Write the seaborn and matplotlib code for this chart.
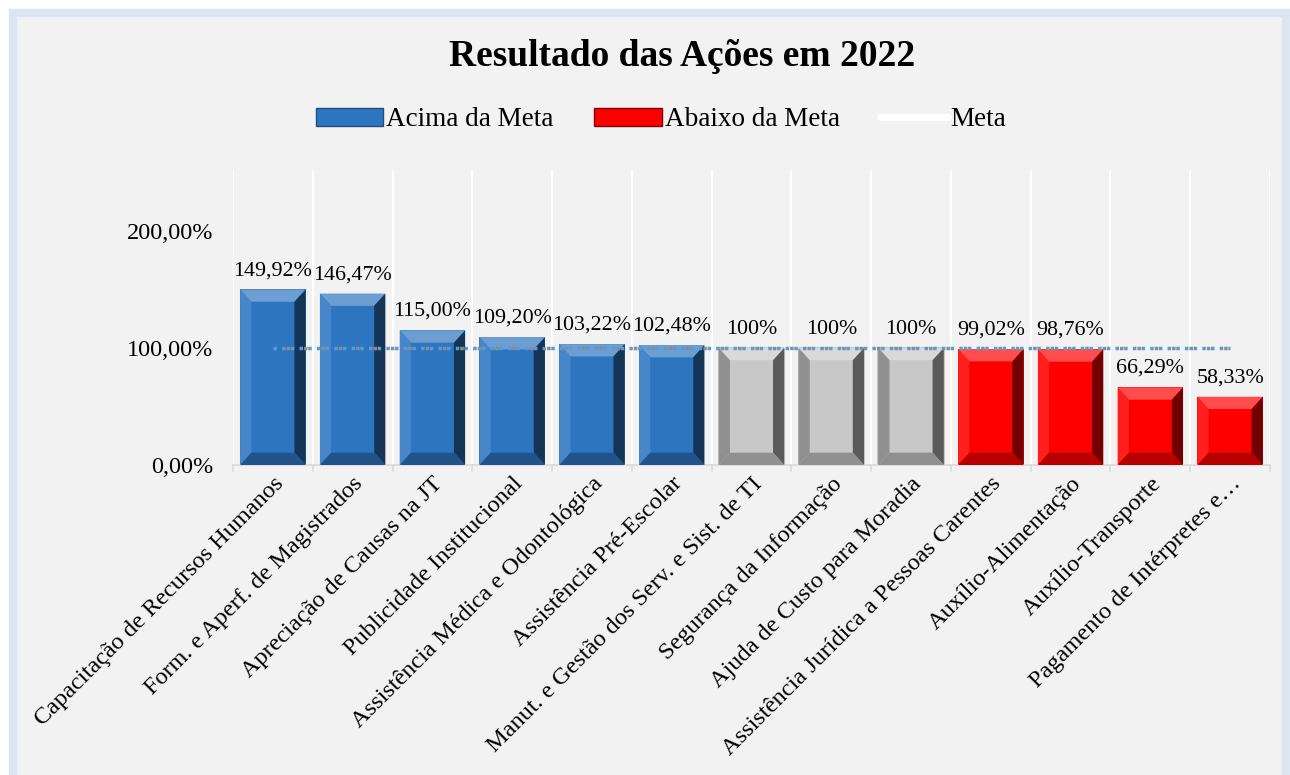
import matplotlib
matplotlib.use("Agg")
import matplotlib.pyplot as plt
from matplotlib.patches import Polygon, Rectangle, Patch
from matplotlib.lines import Line2D
import seaborn as sns
import pandas as pd

acoes = [
    "Capacitação de Recursos Humanos",
    "Form. e Aperf. de Magistrados",
    "Apreciação de Causas na JT",
    "Publicidade Institucional",
    "Assistência Médica e Odontológica",
    "Assistência Pré-Escolar",
    "Manut. e Gestão dos Serv. e Sist. de TI",
    "Segurança da Informação",
    "Ajuda de Custo para Moradia",
    "Assistência Jurídica a Pessoas Carentes",
    "Auxílio-Alimentação",
    "Auxílio-Transporte",
    "Pagamento de Intérpretes e…",
]
resultado = [149.92, 146.47, 115.00, 109.20, 103.22, 102.48, 100, 100, 100,
             99.02, 98.76, 66.29, 58.33]
meta = [100] * len(acoes)

AZUL, CINZA, VERMELHO = "#2e75c0", "#c8c8c8", "#ff0000"


def cor(v):
    if v > 100:
        return AZUL
    if v < 100:
        return VERMELHO
    return CINZA


def rotulo(v):
    if v == 100:
        return "100%"
    return f"{v:.2f}%".replace(".", ",")


df = pd.DataFrame({"acao": acoes, "resultado": resultado, "meta": meta})
df["cor"] = df["resultado"].map(cor)

sns.set_style("white")
plt.rcParams["font.family"] = ["Liberation Serif", "DejaVu Serif"]
plt.rcParams["text.color"] = "black"
plt.rcParams["xtick.color"] = "black"
plt.rcParams["ytick.color"] = "black"

fig = plt.figure(figsize=(12.9, 7.75), dpi=100, facecolor="white")
fig.patches.append(Rectangle((13 / 1290, -0.02), 1273 / 1290, 1.02 - 13 / 775,
                             transform=fig.transFigure, facecolor="#f2f2f2",
                             edgecolor="#dce6f2", linewidth=6, zorder=-10))
ax = fig.add_axes([233 / 1290, 1 - 465 / 775, 1037 / 1290, 295 / 775])
ax.set_facecolor("#f2f2f2")

sns.barplot(data=df, x="acao", y="resultado", hue="acao",
            palette=dict(zip(df["acao"], df["cor"])), legend=False,
            width=0.82, saturation=1, ax=ax, zorder=2)

# bevel effect on each bar
bx, by = 0.14, 10.5
for p, c in zip(ax.patches, df["cor"]):
    x0, y0 = p.get_x(), p.get_y()
    x1, y1 = x0 + p.get_width(), y0 + p.get_height()
    p.set_edgecolor("#1a1a1a" if c == CINZA else "none")
    p.set_linewidth(0.3)
    rgb = matplotlib.colors.to_rgb(c)
    light = tuple(min(1, v + (1 - v) * 0.3) for v in rgb)
    dark = tuple(v * 0.45 for v in rgb)
    mid_dark = tuple(v * 0.72 for v in rgb)
    left = tuple(min(1, v + (1 - v) * 0.12) for v in rgb)
    faces = [
        ([(x0, y1), (x1, y1), (x1 - bx, y1 - by), (x0 + bx, y1 - by)], light),
        ([(x0, y0), (x0, y1), (x0 + bx, y1 - by), (x0 + bx, y0 + by)], mid_dark if c == CINZA else left),
        ([(x1, y0), (x1, y1), (x1 - bx, y1 - by), (x1 - bx, y0 + by)], dark),
        ([(x0, y0), (x1, y0), (x1 - bx, y0 + by), (x0 + bx, y0 + by)], mid_dark),
    ]
    for pts, fc in faces:
        ax.add_patch(Polygon(pts, closed=True, facecolor=fc, edgecolor="none", zorder=3))

# meta line
ax.plot(range(len(acoes)), df["meta"], color="#5b9bd5", lw=2.5,
        linestyle=(0, (1, 1.5)), zorder=5)
ax.plot(range(len(acoes)), df["meta"], color="#8c8c8c", lw=2.5,
        linestyle=(1.2, (1, 4)), zorder=6)

for i, v in enumerate(df["resultado"]):
    ax.text(i, v + 8, rotulo(v), ha="center", va="bottom", fontsize=15.8, zorder=7)

ax.set_ylim(0, 252)
ax.set_xlim(-0.5, len(acoes) - 0.5)
ax.set_yticks([0, 100, 200])
ax.set_yticklabels(["0,00%", "100,00%", "200,00%"], fontsize=17.5)
ax.set_xticks(range(len(acoes)))
ax.set_xticklabels(acoes, rotation=45, ha="right", rotation_mode="anchor", fontsize=17.5)
ax.tick_params(axis="x", length=0, pad=6)
ax.tick_params(axis="y", length=0, pad=14)
ax.set_xlabel("")
ax.set_ylabel("")
for k in range(len(acoes) + 1):
    ax.axvline(k - 0.5, color="white", lw=1.5, zorder=0)
    ax.plot([k - 0.5, k - 0.5], [0, -5], color="#d9d9d9", lw=1.2, clip_on=False)
for s in ["top", "right", "left"]:
    ax.spines[s].set_visible(False)
ax.spines["bottom"].set_color("#d9d9d9")
ax.spines["bottom"].set_linewidth(1.2)

fig.text(682 / 1290, 1 - 56 / 775, "Resultado das Ações em 2022", ha="center", va="center",
         fontsize=27, fontweight="bold")

handles = [
    Patch(facecolor=AZUL, edgecolor="#1f4e79", label="Acima da Meta"),
    Patch(facecolor=VERMELHO, edgecolor="#800000", label="Abaixo da Meta"),
    Line2D([0], [0], color="white", lw=5, label="Meta"),
]
fig.legend(handles=handles, loc="center", bbox_to_anchor=(661 / 1290, 1 - 120 / 775),
           ncol=3, frameon=False, fontsize=19.5, handlelength=2.5, handleheight=0.6,
           columnspacing=1.5, handletextpad=0.1)

fig.savefig("out.png", dpi=100, facecolor=fig.get_facecolor())
